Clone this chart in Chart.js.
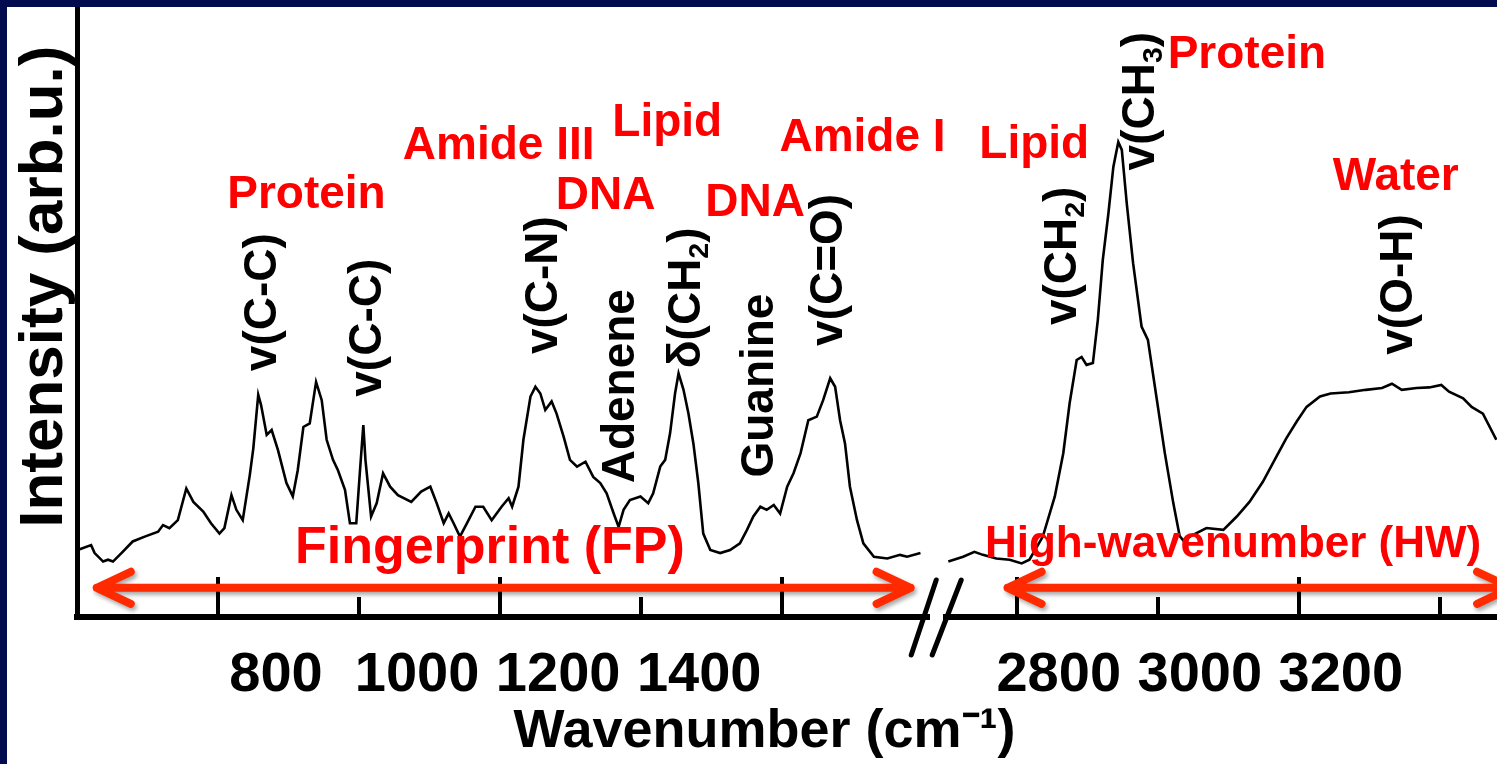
<!DOCTYPE html>
<html>
<head>
<meta charset="utf-8">
<script src="https://cdn.jsdelivr.net/npm/chart.js@4.4.1/dist/chart.umd.min.js"></script>
<style>
  html, body { margin: 0; padding: 0; background: #ffffff; }
  #wrap { position: relative; width: 1497px; height: 764px; overflow: hidden; background: #ffffff; }
  #bandTop { position: absolute; left: 0; top: 0; width: 1497px; height: 7px; background: #020b4e; }
  #bandLeft { position: absolute; left: 0; top: 0; width: 7px; height: 764px; background: #020b4e; }
</style>
</head>
<body>
<div id="wrap">
  <canvas id="chart"></canvas>
  <div id="bandTop"></div>
  <div id="bandLeft"></div>
</div>
<script>
// ---------- data ----------
// Fingerprint region (cm-1) and intensity (arb. u.)
const fpWavenumber = [601, 620, 625, 637, 644, 651, 663, 679, 696, 715, 722, 731, 743, 755, 765, 779, 790, 802, 809, 819,
  826, 835, 845, 850, 857, 861, 869, 876, 885, 897, 906, 913, 921, 930, 939, 947, 954, 963, 970, 980,
  987, 996, 1001, 1006, 1009, 1017, 1025, 1034, 1044, 1055, 1074, 1088, 1101, 1110, 1120, 1127, 1134, 1143, 1153, 1165,
  1176, 1188, 1202, 1212, 1217, 1226, 1233, 1243, 1250, 1257, 1264, 1273, 1280, 1290, 1299, 1309, 1321, 1332, 1342, 1351,
  1361, 1368, 1375, 1384, 1399, 1410, 1417, 1427, 1434, 1441, 1448, 1453, 1460, 1467, 1474, 1481, 1488, 1498, 1512, 1526,
  1540, 1550, 1559, 1569, 1578, 1588, 1597, 1607, 1616, 1626, 1637, 1649, 1658, 1668, 1675, 1682, 1689, 1696, 1706, 1715,
  1730, 1749, 1767, 1777, 1796];
const fpIntensity = [11.0, 11.8, 10.5, 9.1, 9.4, 9.1, 10.5, 12.4, 13.2, 14.0, 15.1, 14.6, 15.9, 21.1, 18.9, 17.3, 15.4, 13.7, 14.6, 20.0,
  17.6, 15.9, 23.3, 27.7, 36.5, 34.8, 29.9, 30.7, 27.4, 22.0, 19.8, 24.1, 31.2, 31.8, 38.6, 35.6, 29.1, 25.8, 24.1, 20.9,
  15.4, 15.4, 23.6, 31.5, 25.8, 16.5, 18.7, 23.6, 21.4, 20.0, 18.9, 20.6, 21.4, 18.7, 15.4, 17.0, 15.4, 13.2, 15.4, 18.1,
  18.1, 15.9, 18.1, 19.5, 18.1, 21.4, 29.1, 36.2, 37.8, 36.7, 34.0, 35.4, 33.4, 29.6, 25.8, 24.7, 25.5, 23.0, 22.0, 20.3,
  17.0, 14.8, 17.6, 19.2, 19.8, 18.7, 20.3, 24.7, 25.8, 30.2, 36.7, 40.0, 37.3, 33.4, 28.5, 22.0, 13.7, 11.0, 10.5, 11.0,
  12.1, 14.3, 16.5, 18.1, 17.6, 18.4, 17.0, 21.4, 23.6, 26.9, 32.3, 32.9, 35.6, 39.2, 37.8, 32.3, 28.5, 21.4, 15.9, 12.1,
  9.9, 9.6, 10.2, 9.9, 10.5];

// High-wavenumber region (cm-1) and intensity (arb. u.)
const hwWavenumber = [2703, 2724, 2740, 2752, 2771, 2790, 2807, 2818, 2837, 2854, 2866, 2875, 2885, 2892, 2899, 2908, 2915, 2922, 2930, 2937,
  2944, 2949, 2956, 2965, 2977, 2986, 2998, 3010, 3022, 3031, 3036, 3050, 3069, 3093, 3112, 3130, 3149, 3168, 3182, 3197,
  3211, 3230, 3245, 3271, 3295, 3318, 3332, 3346, 3367, 3385, 3402, 3413, 3433, 3445, 3461, 3480];
const hwIntensity = [9.1, 9.9, 10.7, 10.2, 9.6, 9.4, 8.8, 9.4, 13.2, 19.8, 26.9, 35.1, 42.2, 42.7, 41.4, 41.7, 48.8, 58.6, 66.3, 73.9,
  78.0, 76.7, 67.9, 58.1, 47.7, 45.5, 36.2, 26.9, 18.7, 13.3, 12.6, 13.5, 14.6, 14.3, 16.5, 18.9, 22.2, 26.3, 29.3, 32.1,
  34.5, 36.2, 36.7, 36.9, 37.3, 37.6, 38.3, 37.3, 37.6, 37.7, 38.1, 37.0, 35.9, 34.5, 33.4, 29.1];

// axis ranges (broken axis) and ticks
const fpRange = [600, 1807];
const hwRange = [2700, 3481];
const breakWidth = 25.5;          // width of the axis break, in cm-1 units
const fpTicks = [800, 1000, 1200, 1400, 1600];
const fpTickLabels = ['800', '1000', '1200', '1400', ''];
const hwTicks = [2800, 3000, 3200, 3400];
const hwTickLabels = ['2800', '3000', '3200', ''];

// annotations (anchored in data units: wavenumber on the given axis, intensity)
const regionLabels = [
  { text: 'Protein', axis: 'x1', x: 813, y: 67.2, kind: 'peak' },
  { text: 'Amide III', axis: 'x1', x: 1062, y: 75.2, kind: 'peak' },
  { text: 'Lipid', axis: 'x1', x: 1359, y: 79.0, kind: 'peak' },
  { text: 'DNA', axis: 'x1', x: 1279, y: 67.0, kind: 'peak' },
  { text: 'DNA', axis: 'x1', x: 1491, y: 65.8, kind: 'peak' },
  { text: 'Amide I', axis: 'x1', x: 1596, y: 76.5, kind: 'peak' },
  { text: 'Lipid', axis: 'x2', x: 2747, y: 75.4, kind: 'peak' },
  { text: 'Protein', axis: 'x2', x: 3014, y: 90.1, kind: 'peak' },
  { text: 'Water', axis: 'x2', x: 3248, y: 70.1, kind: 'peak' },
  { text: 'Fingerprint (FP)', axis: 'x1', x: 909, y: 8.9, kind: 'fp' },
  { text: 'High-wavenumber (HW)', axis: 'x2', x: 2755, y: 9.9, kind: 'hw' }
];
const bandLabels = [
  { text: 'v(C-C)', axis: 'x1', x: 882, y: 51.7 },
  { text: 'v(C-C)', axis: 'x1', x: 1031, y: 47.5 },
  { text: 'v(C-N)', axis: 'x1', x: 1281, y: 54.5 },
  { text: 'Adenene', axis: 'x1', x: 1390, y: 37.9 },
  { text: 'δ(CH₂)', axis: 'x1', x: 1483, y: 52.4 },
  { text: 'Guanine', axis: 'x1', x: 1587, y: 38.0 },
  { text: 'v(C=O)', axis: 'x1', x: 1685, y: 57.0 },
  { text: 'v(CH₂)', axis: 'x2', x: 2884, y: 59.3 },
  { text: 'v(CH₃)', axis: 'x2', x: 2995, y: 84.7 },
  { text: 'v(O-H)', axis: 'x2', x: 3361, y: 54.6 }
];
const regionArrows = [
  { axis: 'x1', from: 628, to: 1782, y: 4.8 },
  { axis: 'x2', from: 2787, to: 3501, y: 4.8 }
];

// ---------- styles ----------
const FONT = '"Liberation Sans", Arial, Helvetica, sans-serif';
const RED = '#ff0000';
const ARROW_RED = '#ff2a00';
const labelSizes = { peak: 46, fp: 52, hw: 44 };
const BAND_SIZE = 46;
const SUBS = '₀₁₂₃₄₅₆₇₈₉';

function splitRich(text) {
  const parts = [];
  for (const ch of text) {
    const k = SUBS.indexOf(ch);
    const sub = k >= 0;
    const c = sub ? String(k) : ch;
    const last = parts[parts.length - 1];
    if (last && last.sub === sub) last.t += c; else parts.push({ t: c, sub });
  }
  return parts;
}

function drawRotatedLabel(ctx, text, bx, cy, size) {
  const parts = splitRich(text);
  ctx.save();
  ctx.translate(bx, cy);
  ctx.rotate(-Math.PI / 2);
  ctx.fillStyle = '#000';
  ctx.textBaseline = 'alphabetic';
  ctx.textAlign = 'left';
  const fontFor = p => `bold ${p.sub ? size * 0.62 : size}px ${FONT}`;
  let total = 0;
  for (const p of parts) { ctx.font = fontFor(p); p.w = ctx.measureText(p.t).width; total += p.w; }
  let x = -total / 2;
  for (const p of parts) { ctx.font = fontFor(p); ctx.fillText(p.t, x, p.sub ? size * 0.17 : 0); x += p.w; }
  ctx.restore();
}

function drawArrow(ctx, x1, x2, y) {
  ctx.save();
  ctx.strokeStyle = ARROW_RED;
  ctx.lineWidth = 8;
  ctx.lineCap = 'round';
  ctx.lineJoin = 'round';
  ctx.shadowColor = 'rgba(0,0,0,0.35)';
  ctx.shadowBlur = 4;
  ctx.shadowOffsetX = 2;
  ctx.shadowOffsetY = 3;
  ctx.beginPath();
  ctx.moveTo(x1, y); ctx.lineTo(x2, y);
  ctx.moveTo(x1 + 34, y - 16); ctx.lineTo(x1, y); ctx.lineTo(x1 + 34, y + 16);
  ctx.moveTo(x2 - 34, y - 16); ctx.lineTo(x2, y); ctx.lineTo(x2 - 34, y + 16);
  ctx.stroke();
  ctx.restore();
}

const annotationPlugin = {
  id: 'spectrumAnnotations',
  afterDraw(chart) {
    const { ctx, scales } = chart;
    const Y = scales.y;
    // axis break marks
    const yAxis = Y.bottom;
    ctx.save();
    ctx.strokeStyle = '#000';
    ctx.lineWidth = 5;
    ctx.lineCap = 'round';
    ctx.beginPath();
    const r = scales.x1.right, l = scales.x2.left;
    ctx.moveTo(r - 17, yAxis + 38); ctx.lineTo(r + 8, yAxis - 37);
    ctx.moveTo(l - 14, yAxis + 38); ctx.lineTo(l + 15, yAxis - 37);
    ctx.stroke();
    ctx.restore();

    // region arrows
    for (const a of regionArrows) {
      const s = scales[a.axis];
      drawArrow(ctx, s.getPixelForValue(a.from), s.getPixelForValue(a.to), Y.getPixelForValue(a.y));
    }
    // red labels
    ctx.save();
    ctx.fillStyle = RED;
    ctx.textAlign = 'left';
    ctx.textBaseline = 'alphabetic';
    for (const t of regionLabels) {
      ctx.font = `bold ${labelSizes[t.kind]}px ${FONT}`;
      ctx.fillText(t.text, scales[t.axis].getPixelForValue(t.x), Y.getPixelForValue(t.y));
    }
    ctx.restore();
    // rotated band assignments
    for (const b of bandLabels) {
      drawRotatedLabel(ctx, b.text, scales[b.axis].getPixelForValue(b.x), Y.getPixelForValue(b.y), BAND_SIZE);
    }
  }
};

function tickDash(c) {
  if (!c || !c.tick || !c.chart.chartArea) return [];
  const h = c.chart.chartArea.height;
  const L = (Math.round(c.tick.value / 200) % 2 === 0) ? 40 : 20;
  return [0, h - L, L, h + 200];
}

function wavenumberAxis(range, ticks, labels, weight, labelOffset) {
  return {
    type: 'linear',
    position: 'bottom',
    stack: 'wn',
    stackWeight: weight,
    min: range[0],
    max: range[1],
    bounds: 'data',
    afterBuildTicks: s => { s.ticks = ticks.map(v => ({ value: v })); },
    grid: { display: true, drawOnChartArea: true, drawTicks: false, color: '#000', lineWidth: 4 },
    border: { display: true, color: '#000', width: 6, dash: tickDash },
    ticks: {
      autoSkip: false, maxRotation: 0, minRotation: 0,
      padding: 28,
      labelOffset: labelOffset,
      color: '#000',
      font: { family: FONT, size: 56, weight: 'bold', lineHeight: 1.093 },
      callback: (v, i) => labels[i]
    }
  };
}

const chart = new Chart(document.getElementById('chart'), {
  type: 'line',
  data: {
    datasets: [
      {
        label: 'Fingerprint',
        data: fpWavenumber.map((x, i) => ({ x, y: fpIntensity[i] })),
        xAxisID: 'x1', yAxisID: 'y',
        borderColor: '#000', borderWidth: 2.6, pointRadius: 0, tension: 0, fill: false
      },
      {
        label: 'High-wavenumber',
        data: hwWavenumber.map((x, i) => ({ x, y: hwIntensity[i] })),
        xAxisID: 'x2', yAxisID: 'y',
        borderColor: '#000', borderWidth: 2.6, pointRadius: 0, tension: 0, fill: false
      }
    ]
  },
  options: {
    responsive: true,
    maintainAspectRatio: false,
    animation: false,
    devicePixelRatio: 1,
    layout: { padding: { top: 8, left: 0, right: 0, bottom: 0 } },
    plugins: { legend: { display: false }, tooltip: { enabled: false } },
    scales: {
      x1: wavenumberAxis(fpRange, fpTicks, fpTickLabels, fpRange[1] - fpRange[0], 58),
      xg: {
        type: 'linear', position: 'bottom', stack: 'wn', stackWeight: breakWidth,
        min: 0, max: 1,
        grid: { display: false, drawTicks: false },
        border: { display: false },
        ticks: { display: false }
      },
      x2: wavenumberAxis(hwRange, hwTicks, hwTickLabels, hwRange[1] - hwRange[0], 42),
      xt: {
        type: 'linear', position: 'bottom', weight: 1,
        min: 0, max: 1,
        grid: { display: false, drawTicks: false },
        border: { display: false },
        ticks: { display: false },
        title: {
          display: true,
          text: 'Wavenumber (cm⁻¹)   ',
          color: '#000',
          font: { family: FONT, size: 54, weight: 'bold', lineHeight: 0.95 },
          padding: { top: -27.9, bottom: 6.4 }
        }
      },
      y: {
        type: 'linear', position: 'left',
        min: 0, max: 100,
        grid: { display: false, drawTicks: false },
        border: { display: true, color: '#000', width: 5 },
        ticks: { display: false },
        title: {
          display: true,
          text: '   Intensity (arb.u.)',
          color: '#000',
          font: { family: FONT, size: 62, weight: 'bold', lineHeight: 1 },
          padding: { top: 14, bottom: 1 }
        }
      }
    }
  },
  plugins: [annotationPlugin]
});
</script>
</body>
</html>
